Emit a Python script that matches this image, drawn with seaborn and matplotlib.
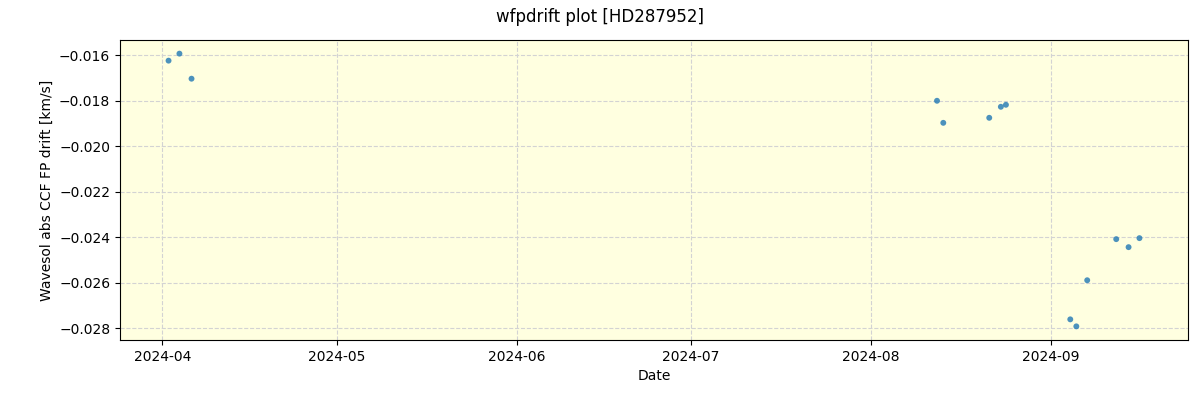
import pandas as pd
import matplotlib.pyplot as plt
import matplotlib.dates as mdates
import seaborn as sns

# data
dates = [
    "2024-04-02 01:00", "2024-04-03 22:00", "2024-04-06 00:00",
    "2024-08-12 10:00", "2024-08-13 12:00", "2024-08-21 10:00",
    "2024-08-23 10:00", "2024-08-24 07:00",
    "2024-09-04 09:00", "2024-09-05 10:00", "2024-09-07 07:00",
    "2024-09-12 07:00", "2024-09-14 10:00", "2024-09-16 07:00",
]
drift = [
    -0.016233, -0.015925, -0.017026,
    -0.017996, -0.018965, -0.018744,
    -0.018260, -0.018172,
    -0.027599, -0.027907, -0.025881,
    -0.024075, -0.024427, -0.024031,
]

df = pd.DataFrame({"date": pd.to_datetime(dates), "drift": drift})

fig, ax = plt.subplots(figsize=(12, 4), dpi=100)
fig.subplots_adjust(left=0.1, right=0.99, top=0.9, bottom=0.15)

sns.scatterplot(data=df, x="date", y="drift", ax=ax, s=18, color="tab:blue",
                alpha=0.8, edgecolor="none")

ax.set_facecolor("lightyellow")
ax.grid(True, linestyle="--", color="lightgray", linewidth=0.8)
ax.set_axisbelow(True)
ax.xaxis.set_major_locator(mdates.MonthLocator())
ax.xaxis.set_major_formatter(mdates.DateFormatter("%Y-%m"))
ax.set_xlabel("Date")
ax.set_ylabel("Wavesol abs CCF FP drift [km/s]")
fig.suptitle("wfpdrift plot [HD287952]")

plt.savefig("out.png")
